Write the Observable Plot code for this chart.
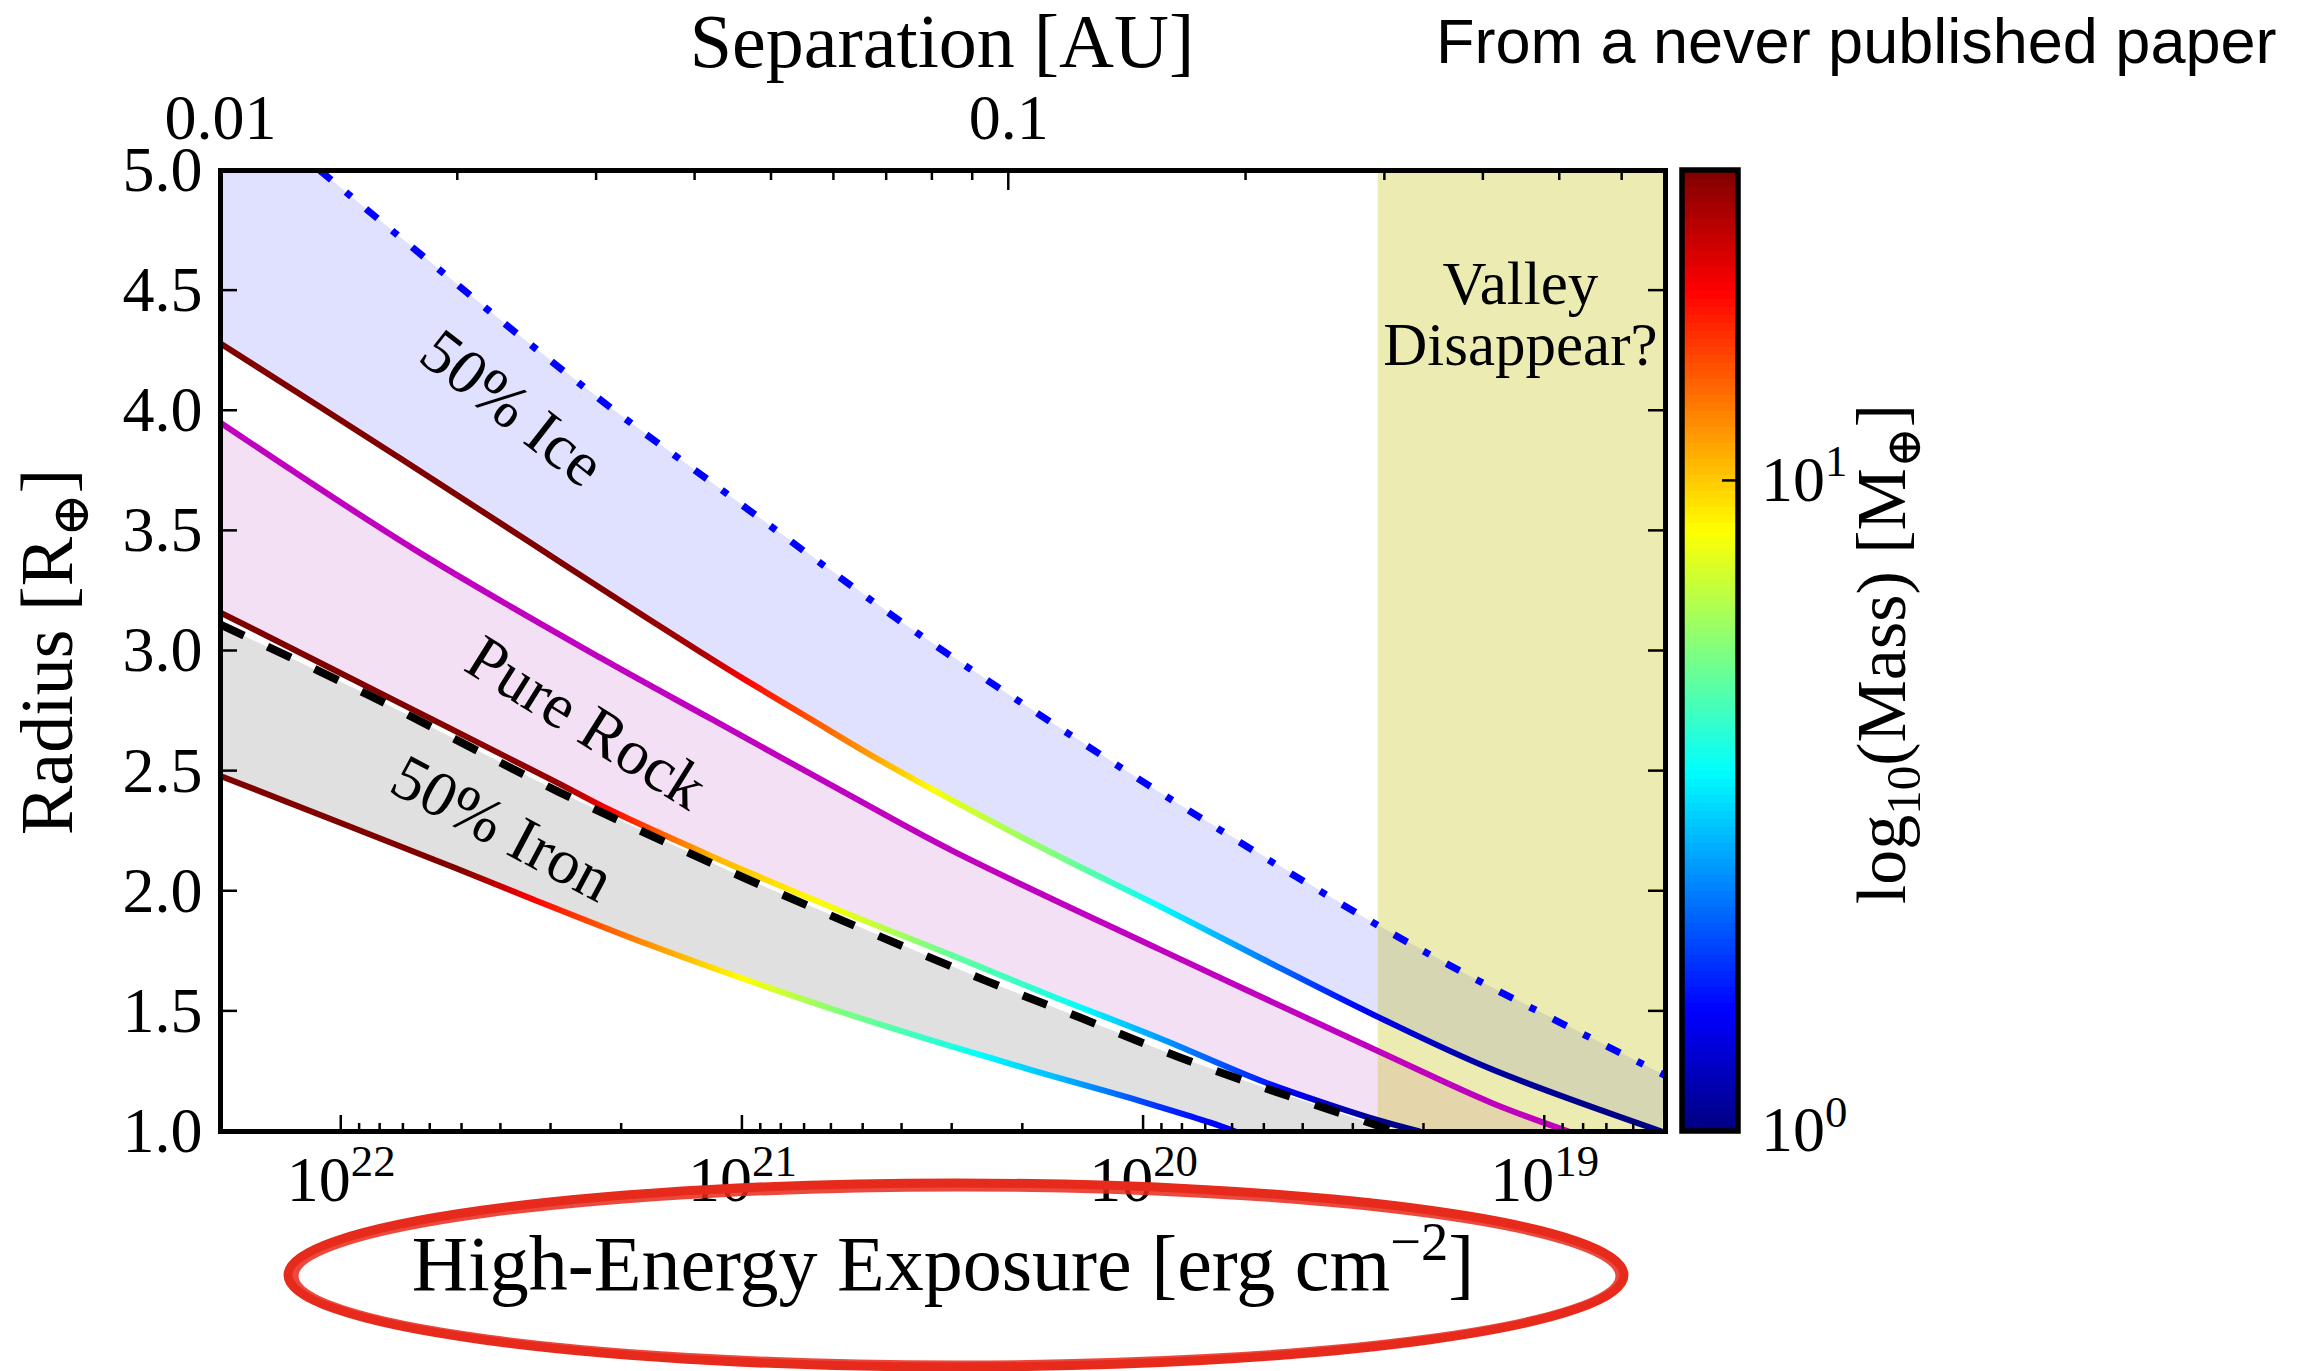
<!DOCTYPE html>
<html>
<head>
<meta charset="utf-8">
<script src="https://cdn.jsdelivr.net/npm/d3@7"></script>
<script src="https://cdn.jsdelivr.net/npm/@observablehq/plot@0.6"></script>
<style>
html, body { margin: 0; padding: 0; background: #ffffff; }
#chart { position: relative; width: 2304px; height: 1371px; overflow: hidden; }
</style>
</head>
<body>
<div id="chart"></div>
<script>
(function () {
const serif = "'Liberation Serif','DejaVu Serif',serif";
const sans = "'Liberation Sans','DejaVu Sans',sans-serif";

// ---------------- data ----------------
const exposureTicks = [1e22, 1e21, 1e20, 1e19];
const radiusTicks = [1.0, 1.5, 2.0, 2.5, 3.0, 3.5, 4.0, 4.5, 5.0];
const separationTicks = [0.01, 0.1];
const separationMinorTicks = [0.02, 0.03, 0.04, 0.05, 0.06, 0.07, 0.08, 0.09, 0.2, 0.3, 0.4, 0.5, 0.6];
const massTicks = [1, 10];

// upper edge of the 50% ice band (dash-dot)
const iceUpperExposure = [1.13e22, 3.64e21, 2.12e21, 1.19e21, 3.93e20, 2.15e20, 9.18e19, 2.81e19, 1.55e19, 5.0e18];
const iceUpperRadius   = [5.00, 4.32, 4.01, 3.70, 3.11, 2.815, 2.415, 1.89, 1.65, 1.233];

// lower edge of the 50% ice band (coloured by mass)
const iceLowerExposure = [2.0e22, 7.33e21, 3.44e21, 2.25e21, 1.27e21, 9.84e20, 6.81e20, 4.82e20, 3.01e20, 1.67e20, 9.18e19, 5.08e19, 2.59e19, 1.36e19, 5.11e18];
const iceLowerRadius   = [4.28, 3.815, 3.46, 3.26, 2.995, 2.88, 2.72, 2.57, 2.38, 2.155, 1.94, 1.72, 1.475, 1.26, 1.0];
const iceLowerMass     = [30, 30, 30, 30, 26, 19.6, 15, 11.6, 7.6, 5.5, 3.6, 2.35, 1.4, 1.1, 1.0];

// pure rock band: upper (magenta) and lower (coloured by mass)
const rockUpperExposure = [2.0e22, 6.53e21, 2.25e21, 1.19e21, 5.41e20, 3.01e20, 9.18e19, 2.59e19, 1.36e19, 8.71e18];
const rockUpperRadius   = [3.95, 3.42, 2.97, 2.715, 2.40, 2.17, 1.76, 1.333, 1.12, 1.0];

const rockLowerExposure = [2.0e22, 7.08e21, 2.88e21, 2.15e21, 1.19e21, 5.73e20, 3.01e20, 1.67e20, 9.18e19, 5.08e19, 3.42e19, 2.59e19, 2.05e19];
const rockLowerRadius   = [3.16, 2.78, 2.45, 2.34, 2.145, 1.92, 1.734, 1.56, 1.39, 1.21, 1.11, 1.046, 1.0];
const rockLowerMass     = [30, 30, 28, 19.6, 10.8, 8.0, 5.0, 4.0, 2.6, 1.72, 1.24, 1.07, 1.0];

// 50% iron band: upper (black dashed) and lower (coloured by mass)
const ironUpperExposure = [2.0e22, 8.51e21, 2.88e21, 9.72e20, 2.45e20, 1.42e20, 8.18e19, 4.69e19, 2.70e19, 2.37e19];
const ironUpperRadius   = [3.11, 2.815, 2.415, 2.05, 1.625, 1.47, 1.31, 1.166, 1.033, 1.0];

const ironLowerExposure = [2.0e22, 5.16e21, 3.32e21, 1.70e21, 1.00e21, 5.73e20, 3.01e20, 2.23e20, 1.67e20, 1.24e20, 9.18e19, 6.84e19, 5.9e19];
const ironLowerRadius   = [2.48, 2.095, 1.966, 1.776, 1.637, 1.50, 1.354, 1.290, 1.228, 1.168, 1.104, 1.038, 1.0];
const ironLowerMass     = [30, 30, 19.6, 12, 8.4, 5.5, 4.0, 3.3, 2.9, 2.3, 1.8, 1.55, 1.5];

const valleyExposure = [2.6e19, 5e18];

const regionLabels = ["50% Ice", "Pure Rock", "50% Iron"];
const regionLabelExposure = [3.75e21, 2.45e21, 3.97e21];
const regionLabelRadius = [4.01, 2.70, 2.26];
const regionLabelAngle = [38, 32, 28];
const valleyLabel = "Valley\nDisappear?";
const valleyLabelExposure = 1.15e19;
const valleyLabelRadius = 4.40;

// separation <-> exposure relation
const sepToE = a => 2e22 * Math.pow(a / 0.01, -1.965);
const eToSep = e => 0.01 * Math.pow(e / 2e22, -1 / 1.965);

// ---------------- helpers ----------------
function jet(t) {
  const c = v => Math.max(0, Math.min(1, v));
  const r = c(1.5 - Math.abs(4 * t - 3));
  const g = c(1.5 - Math.abs(4 * t - 2));
  const b = c(1.5 - Math.abs(4 * t - 1));
  return d3.rgb(r * 255, g * 255, b * 255).formatHex();
}
const pts = (E, R, M) => E.map((e, i) => ({e, r: R[i], m: M ? M[i] : undefined}));

const iceUpper = pts(iceUpperExposure, iceUpperRadius);
const iceLower = pts(iceLowerExposure, iceLowerRadius, iceLowerMass);
const rockUpper = pts(rockUpperExposure, rockUpperRadius);
const rockLower = pts(rockLowerExposure, rockLowerRadius, rockLowerMass);
const ironUpper = pts(ironUpperExposure, ironUpperRadius);
const ironLower = pts(ironLowerExposure, ironLowerRadius, ironLowerMass);

const xDomain = [2e22, 5e18];
const yDomain = [1, 5];

const icePoly = [{e: xDomain[0], r: yDomain[1]}, ...iceUpper, ...iceLower.slice().reverse()];
const rockPoly = [...rockUpper, ...rockLower.slice().reverse()];
const ironPoly = [...ironUpper, ...ironLower.slice().reverse()];

const massLines = [["gradIce", iceLower], ["gradRock", rockLower], ["gradIron", ironLower]];
const smooth = "catmull-rom";

const plot = Plot.plot({
  width: 2304,
  height: 1371,
  marginLeft: 220,
  marginRight: 639,
  marginTop: 170,
  marginBottom: 240,
  style: {fontFamily: serif, fontSize: "64px", background: "transparent", color: "black"},
  x: {type: "log", domain: xDomain},
  y: {type: "linear", domain: yDomain},
  color: {type: "log", domain: [1, 30], interpolate: jet, clamp: true},
  marks: [
    Plot.line(icePoly, {x: "e", y: "r", fill: "#e0e0ff", stroke: "none", clip: true}),
    Plot.line(rockPoly, {x: "e", y: "r", fill: "#f4e0f4", stroke: "none", clip: true}),
    Plot.line(ironPoly, {x: "e", y: "r", fill: "#e0e0e0", stroke: "none", clip: true}),
    Plot.rect([valleyExposure], {x1: d => d[0], x2: d => d[1], y1: () => yDomain[0], y2: () => yDomain[1], fill: "#bfbf00", fillOpacity: 0.3}),
    ...massLines.map(([id, p]) => Plot.line(p, {x: "e", y: "r", stroke: `url(#${id})`, strokeWidth: 6, curve: smooth, clip: true})),
    Plot.line(rockUpper, {x: "e", y: "r", stroke: "#bf00bf", strokeWidth: 6, curve: smooth, clip: true}),
    Plot.line(ironUpper, {x: "e", y: "r", stroke: "black", strokeWidth: 8, strokeDasharray: "26,26", strokeLinecap: "butt", curve: smooth, clip: true}),
    Plot.line(iceUpper, {x: "e", y: "r", stroke: "#0000ff", strokeWidth: 7, strokeDasharray: "15,19,7,19", strokeLinecap: "butt", curve: smooth, clip: true}),
    Plot.text(regionLabels, {
      x: (d, i) => regionLabelExposure[i],
      y: (d, i) => regionLabelRadius[i],
      text: d => d,
      rotate: (d, i) => regionLabelAngle[i],
      fontSize: 64,
      fill: "black"
    }),
    Plot.text([valleyLabel], {x: () => valleyLabelExposure, y: () => valleyLabelRadius, text: d => d, fontSize: 61, lineHeight: 1.0, fill: "black"}),
    Plot.frame({stroke: "black", strokeWidth: 5}),
    Plot.axisY({ticks: radiusTicks, tickFormat: d3.format(".1f"), tickSize: 0, tickPadding: 18, label: null}),
    Plot.axisX({ticks: exposureTicks, tickFormat: e => `10^${Math.round(Math.log10(e))}`, tickSize: 0, tickPadding: 24, label: null, anchor: "bottom"}),
    Plot.axisX({ticks: separationTicks.map(sepToE), tickFormat: e => String(+eToSep(e).toPrecision(2)), tickSize: 0, tickPadding: 32, label: null, anchor: "top"})
  ]
});

document.getElementById("chart").appendChild(plot);

// ---------------- decorations drawn with the plot's scales ----------------
const svg = d3.select(plot);
const X = plot.scale("x"), Y = plot.scale("y"), C = plot.scale("color");
const pL = X.apply(xDomain[0]), pR = X.apply(xDomain[1]);
const pT = Y.apply(yDomain[1]), pB = Y.apply(yDomain[0]);
const ns = "http://www.w3.org/2000/svg";

// horizontal colour gradients for the mass-coloured curves (stops from the data, colours from the colour scale)
const defs = svg.insert("defs", ":first-child");
for (const [id, p] of massLines) {
  const g = defs.append("linearGradient").attr("id", id).attr("gradientUnits", "userSpaceOnUse")
    .attr("x1", pL).attr("x2", pR).attr("y1", 0).attr("y2", 0);
  const addStop = (e, m) => g.append("stop")
    .attr("offset", Math.max(0, Math.min(1, (X.apply(e) - pL) / (pR - pL))))
    .attr("stop-color", C.apply(m));
  p.forEach((d, i) => {
    addStop(d.e, d.m);
    const nx = p[i + 1];
    if (!nx) return;
    for (let k = 1; k < 4; k++) {
      const f = k / 4;
      addStop(Math.exp(Math.log(d.e) * (1 - f) + Math.log(nx.e) * f), Math.exp(Math.log(d.m) * (1 - f) + Math.log(nx.m) * f));
    }
  });
}

// superscripts on exponent tick labels
svg.selectAll("text").each(function () {
  const m = /^10\^(\d+)$/.exec(this.textContent);
  if (!m) return;
  const size = 64;
  this.textContent = "";
  const a = document.createElementNS(ns, "tspan"); a.textContent = "10"; this.appendChild(a);
  const b = document.createElementNS(ns, "tspan"); b.textContent = m[1];
  b.setAttribute("dy", -0.39 * size); b.setAttribute("font-size", 0.7 * size);
  this.appendChild(b);
});

function rich(parent, x, y, size, parts, opts = {}) {
  const t = parent.append("text")
    .attr("x", x).attr("y", y)
    .attr("font-size", size)
    .attr("font-family", opts.family || serif)
    .attr("text-anchor", opts.anchor || "middle")
    .attr("fill", opts.fill || "black");
  if (opts.rotate) t.attr("transform", `rotate(${opts.rotate},${x},${y})`);
  let shift = 0;
  for (const [str, kind] of parts) {
    const target = kind === "sup" ? -0.39 * size : kind === "sub" ? 0.22 * size : 0;
    const ts = t.append("tspan").text(str).attr("dy", target - shift);
    if (kind) ts.attr("font-size", 0.7 * size);
    shift = target;
  }
  return t;
}

// ticks
const tk = svg.append("g").attr("stroke", "black").attr("stroke-width", 2.5).attr("fill", "none");
for (const r of radiusTicks.slice(1, -1)) {
  const y = Y.apply(r);
  tk.append("line").attr("x1", pL).attr("x2", pL + 17).attr("y1", y).attr("y2", y);
  tk.append("line").attr("x1", pR).attr("x2", pR - 17).attr("y1", y).attr("y2", y);
}
for (const e of exposureTicks) {
  const x = X.apply(e);
  tk.append("line").attr("x1", x).attr("x2", x).attr("y1", pB).attr("y2", pB - 16);
}
for (let k = 18; k <= 22; k++) {
  for (let f = 2; f <= 9; f++) {
    const e = f * Math.pow(10, k);
    if (e >= xDomain[0] || e <= xDomain[1]) continue;
    const x = X.apply(e);
    tk.append("line").attr("x1", x).attr("x2", x).attr("y1", pB).attr("y2", pB - 8);
  }
}
for (const a of separationTicks) {
  const x = X.apply(sepToE(a));
  tk.append("line").attr("x1", x).attr("x2", x).attr("y1", pT).attr("y2", pT + 20);
}
for (const a of separationMinorTicks) {
  const x = X.apply(sepToE(a));
  tk.append("line").attr("x1", x).attr("x2", x).attr("y1", pT).attr("y2", pT + 10);
}

// colour bar
const cbL = 1682, cbR = 1738;
const cbY = d3.scaleLog().domain([1, 30]).range([pB, pT]);
const cb = svg.append("g");
const nBands = 120, lo = 0, hi = Math.log10(30);
for (let i = 0; i < nBands; i++) {
  const a = Math.pow(10, lo + (hi - lo) * i / nBands);
  const b = Math.pow(10, lo + (hi - lo) * (i + 1) / nBands);
  cb.append("rect")
    .attr("x", cbL).attr("width", cbR - cbL)
    .attr("y", cbY(b)).attr("height", cbY(a) - cbY(b) + 0.6)
    .attr("fill", C.apply(Math.sqrt(a * b)))
    .attr("shape-rendering", "crispEdges");
}
cb.append("rect").attr("x", cbL).attr("y", pT).attr("width", cbR - cbL).attr("height", pB - pT)
  .attr("fill", "none").attr("stroke", "black").attr("stroke-width", 5.5);
for (const m of massTicks) {
  const y = cbY(m);
  cb.append("line").attr("x1", cbR).attr("x2", cbR - 16).attr("y1", y).attr("y2", y)
    .attr("stroke", "black").attr("stroke-width", 2.5);
  rich(cb, 1761, y + 0.32 * 64, 64, [["10"], [String(Math.round(Math.log10(m))), "sup"]], {anchor: "start"});
}

// titles
rich(svg, 942, 67, 76, [["Separation [AU]"]]);
rich(svg, 943, 1290, 78, [["High-Energy Exposure [erg cm"], ["\u22122", "sup"], ["]"]]);
rich(svg, 72, 652, 74, [["Radius [R"], ["\u2295", "sub"], ["]"]], {rotate: -90});
rich(svg, 1905, 654, 70, [["log"], ["10", "sub"], ["(Mass) [M"], ["\u2295", "sub"], ["]"]], {rotate: -90});
rich(svg, 1436, 63, 63, [["From a never published paper"]], {anchor: "start", family: sans});

// hand-drawn red ellipse around the x-axis title
const el = svg.append("g").attr("fill", "none").attr("stroke", "#e62a1c");
el.append("ellipse").attr("cx", 956).attr("cy", 1275).attr("rx", 668).attr("ry", 92).attr("stroke-width", 9);
el.append("ellipse").attr("cx", 957).attr("cy", 1276).attr("rx", 662).attr("ry", 88).attr("stroke-width", 7).attr("stroke-opacity", 0.85);
})();
</script>
</body>
</html>
